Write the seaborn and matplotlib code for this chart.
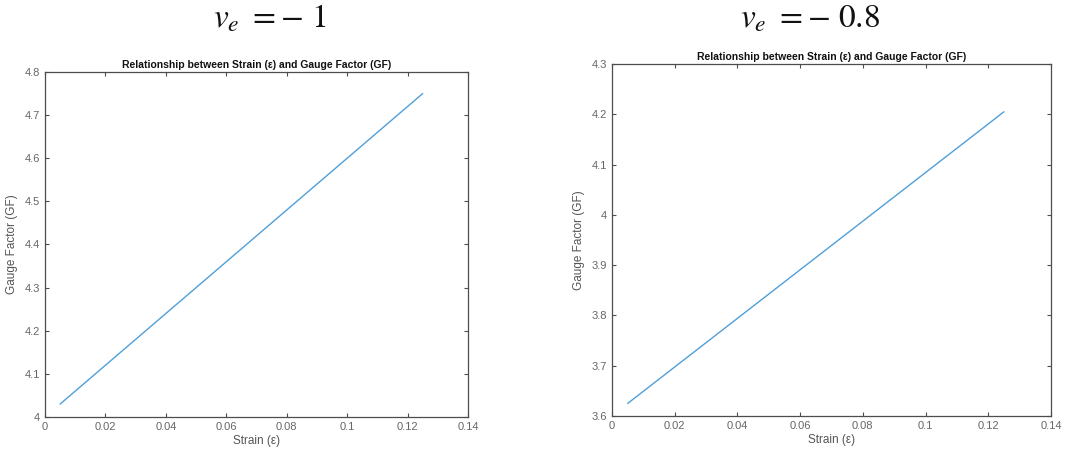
import matplotlib
matplotlib.use("Agg")
import matplotlib.pyplot as plt
import seaborn as sns
import pandas as pd

strain = [0.005, 0.125]
gf_left = [4.03, 4.75]
gf_right = [3.625, 4.205]
xticks = [0, 0.02, 0.04, 0.06, 0.08, 0.1, 0.12, 0.14]
xticklabels = ["0", "0.02", "0.04", "0.06", "0.08", "0.1", "0.12", "0.14"]
yticks_left = [4, 4.1, 4.2, 4.3, 4.4, 4.5, 4.6, 4.7, 4.8]
yticklabels_left = ["4", "4.1", "4.2", "4.3", "4.4", "4.5", "4.6", "4.7", "4.8"]
yticks_right = [3.6, 3.7, 3.8, 3.9, 4.0, 4.1, 4.2, 4.3]
yticklabels_right = ["3.6", "3.7", "3.8", "3.9", "4", "4.1", "4.2", "4.3"]
main_titles = [r"$v_e\ {=}{-}\ 1$", r"$v_e\ {=}{-}\ 0.8$"]
sub_title = "Relationship between Strain (ε) and Gauge Factor (GF)"
xlabel = "Strain (ε)"
ylabel = "Gauge Factor (GF)"

sns.set_theme(style="white")
plt.rcParams["font.family"] = ["Liberation Sans", "DejaVu Sans"]
plt.rcParams["mathtext.fontset"] = "stix"

W, H = 1069, 453
fig = plt.figure(figsize=(W / 100, H / 100), dpi=100)


def box(l, t, r, b):
    return [l / W, 1 - b / H, (r - l) / W, (b - t) / H]


ax1 = fig.add_axes(box(45, 72, 468, 417))
ax2 = fig.add_axes(box(612, 64, 1051, 416))

line_color = "#4f9fd9"
grey = "#4d4d4d"
panels = [
    (ax1, gf_left, yticks_left, yticklabels_left, main_titles[0], 270),
    (ax2, gf_right, yticks_right, yticklabels_right, main_titles[1], 810),
]
for ax, gf, yt, ytl, mt, cx in panels:
    df = pd.DataFrame({"strain": strain, "gf": gf})
    sns.lineplot(data=df, x="strain", y="gf", ax=ax, color=line_color, linewidth=1.0)
    ax.set_xlim(0, 0.14)
    ax.set_ylim(yt[0], yt[-1])
    ax.set_xticks(xticks)
    ax.set_xticklabels(xticklabels)
    ax.set_yticks(yt)
    ax.set_yticklabels(ytl)
    ax.tick_params(direction="in", length=3, width=0.8, colors=grey, labelsize=8,
                   top=True, right=True, bottom=True, left=True, pad=3.5,
                   labelcolor="#666666")
    for s in ax.spines.values():
        s.set_color(grey)
        s.set_linewidth(0.9)
    ax.set_xlabel(xlabel, fontsize=8.5, color="#555555", labelpad=2)
    ax.set_ylabel(ylabel, fontsize=8.5, color="#555555", labelpad=5)
    ax.set_title(sub_title, fontsize=7.5, fontweight="bold", color="#111111", pad=3)
    fig.text(cx / W, 1 - 19 / H, mt, fontsize=24, ha="center", va="center", color="#111111")

fig.savefig("out.png", dpi=100)
